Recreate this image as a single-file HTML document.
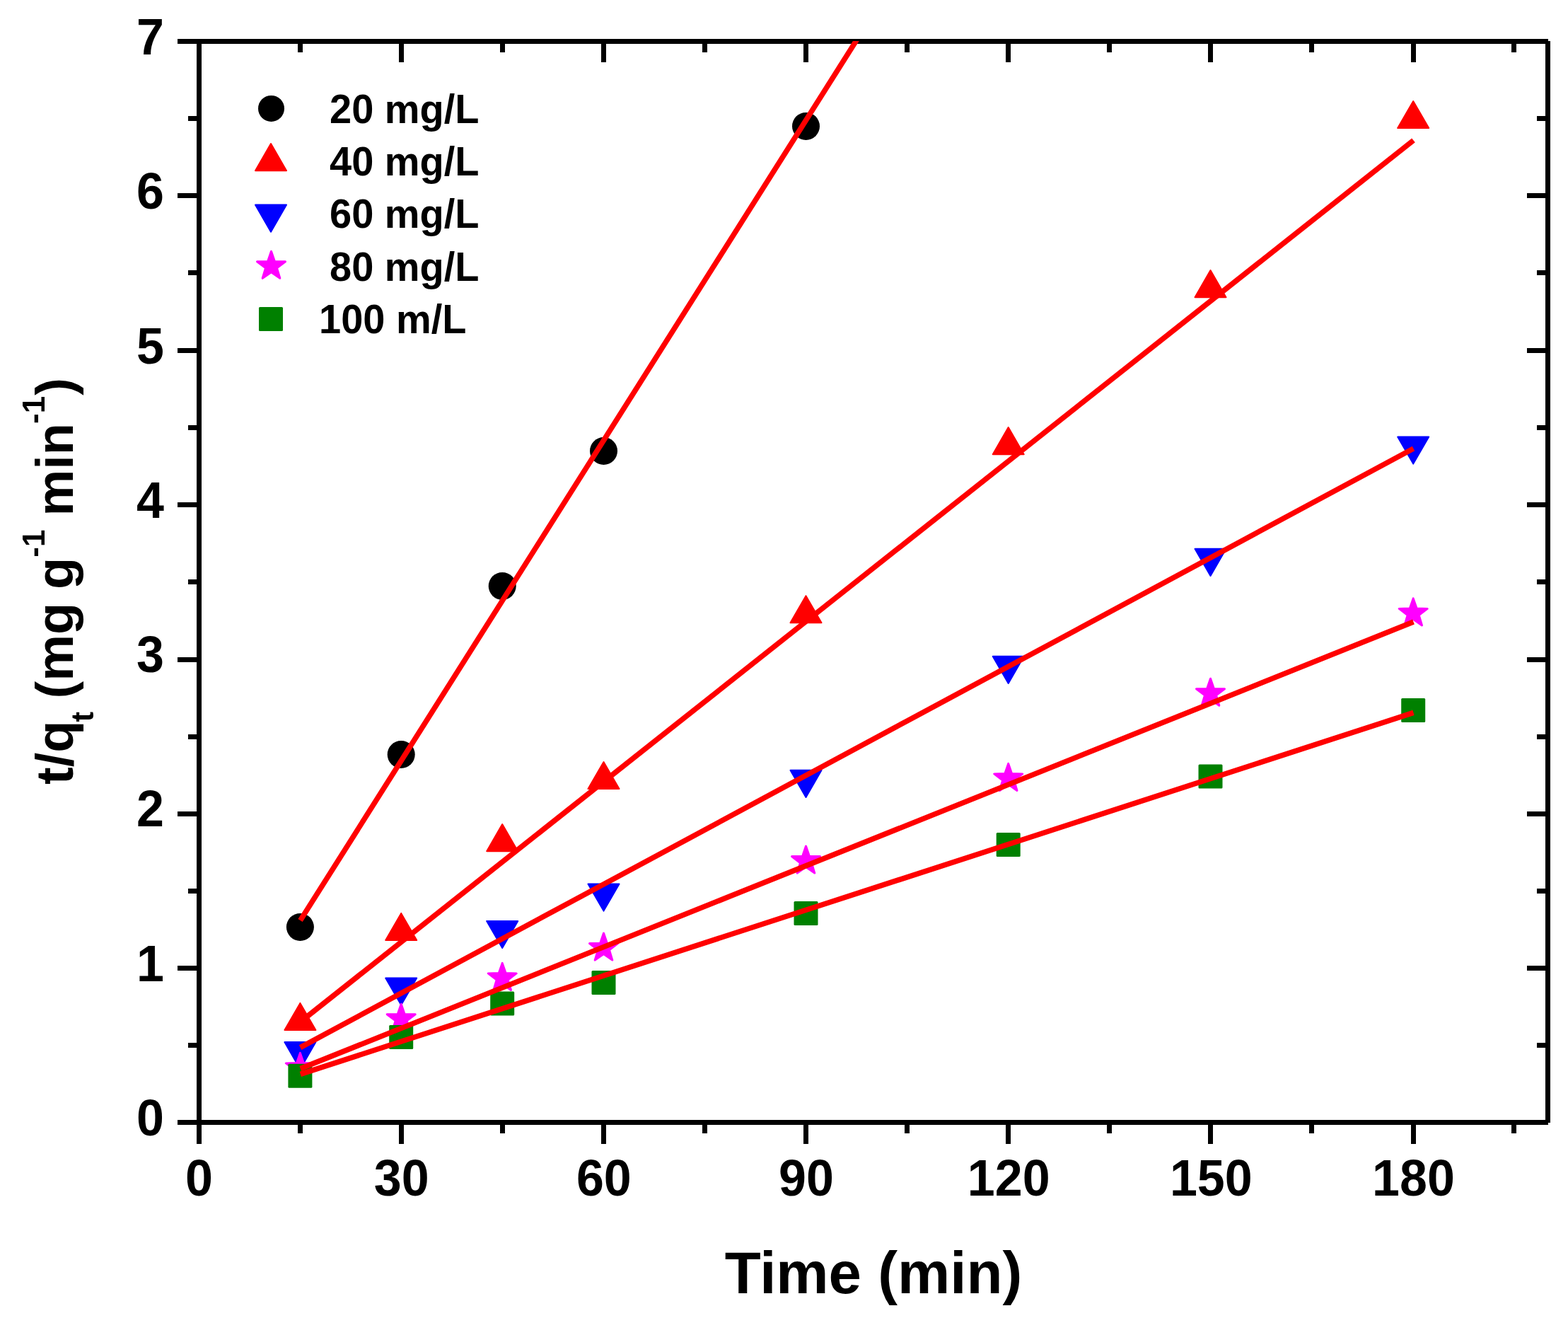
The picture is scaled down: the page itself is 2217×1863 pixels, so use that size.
<!DOCTYPE html>
<html><head><meta charset="utf-8"><title>t/qt vs Time</title>
<style>html,body{margin:0;padding:0;background:#fff;}svg{display:block;}text{font-family:"Liberation Sans",Arial,sans-serif;font-weight:bold;fill:#000;}</style></head><body>
<svg width="2217" height="1863" viewBox="0 0 2217 1863">
<rect x="0" y="0" width="2217" height="1863" fill="#fff"/>
<g fill="#000" shape-rendering="crispEdges"><rect x="251" y="55" width="1938" height="7"/><rect x="251" y="1583" width="1938" height="7"/><rect x="278" y="55" width="7" height="1535"/><rect x="2185" y="58" width="7" height="1529"/><rect x="251" y="273" width="27" height="7"/><rect x="2159" y="273" width="26" height="7"/><rect x="251" y="492" width="27" height="7"/><rect x="2159" y="492" width="26" height="7"/><rect x="251" y="710" width="27" height="7"/><rect x="2159" y="710" width="26" height="7"/><rect x="251" y="929" width="27" height="7"/><rect x="2159" y="929" width="26" height="7"/><rect x="251" y="1147" width="27" height="7"/><rect x="2159" y="1147" width="26" height="7"/><rect x="251" y="1365" width="27" height="7"/><rect x="2159" y="1365" width="26" height="7"/><rect x="266" y="164" width="12" height="7"/><rect x="2173" y="164" width="12" height="7"/><rect x="266" y="382" width="12" height="7"/><rect x="2173" y="382" width="12" height="7"/><rect x="266" y="601" width="12" height="7"/><rect x="2173" y="601" width="12" height="7"/><rect x="266" y="819" width="12" height="7"/><rect x="2173" y="819" width="12" height="7"/><rect x="266" y="1038" width="12" height="7"/><rect x="2173" y="1038" width="12" height="7"/><rect x="266" y="1256" width="12" height="7"/><rect x="2173" y="1256" width="12" height="7"/><rect x="266" y="1474" width="12" height="7"/><rect x="2173" y="1474" width="12" height="7"/><rect x="278" y="1590" width="7" height="27"/><rect x="564" y="1590" width="7" height="27"/><rect x="564" y="62" width="7" height="26"/><rect x="850" y="1590" width="7" height="27"/><rect x="850" y="62" width="7" height="26"/><rect x="1136" y="1590" width="7" height="27"/><rect x="1136" y="62" width="7" height="26"/><rect x="1422" y="1590" width="7" height="27"/><rect x="1422" y="62" width="7" height="26"/><rect x="1708" y="1590" width="7" height="27"/><rect x="1708" y="62" width="7" height="26"/><rect x="1995" y="1590" width="7" height="27"/><rect x="1995" y="62" width="7" height="26"/><rect x="421" y="1590" width="7" height="12"/><rect x="421" y="62" width="7" height="12"/><rect x="707" y="1590" width="7" height="12"/><rect x="707" y="62" width="7" height="12"/><rect x="993" y="1590" width="7" height="12"/><rect x="993" y="62" width="7" height="12"/><rect x="1279" y="1590" width="7" height="12"/><rect x="1279" y="62" width="7" height="12"/><rect x="1565" y="1590" width="7" height="12"/><rect x="1565" y="62" width="7" height="12"/><rect x="1851" y="1590" width="7" height="12"/><rect x="1851" y="62" width="7" height="12"/><rect x="2137" y="1590" width="7" height="12"/><rect x="2137" y="62" width="7" height="12"/></g>
<text transform="translate(281.5,1690.2) scale(1,1.02)" font-size="70" text-anchor="middle">0</text>
<text transform="translate(567.7,1690.2) scale(1,1.02)" font-size="70" text-anchor="middle">30</text>
<text transform="translate(853.8,1690.2) scale(1,1.02)" font-size="70" text-anchor="middle">60</text>
<text transform="translate(1140.0,1690.2) scale(1,1.02)" font-size="70" text-anchor="middle">90</text>
<text transform="translate(1426.2,1690.2) scale(1,1.02)" font-size="70" text-anchor="middle">120</text>
<text transform="translate(1712.3,1690.2) scale(1,1.02)" font-size="70" text-anchor="middle">150</text>
<text transform="translate(1998.5,1690.2) scale(1,1.02)" font-size="70" text-anchor="middle">180</text>
<text transform="translate(232,1605.0) scale(1,1.02)" font-size="70" text-anchor="end">0</text>
<text transform="translate(232,1386.7) scale(1,1.02)" font-size="70" text-anchor="end">1</text>
<text transform="translate(232,1168.4) scale(1,1.02)" font-size="70" text-anchor="end">2</text>
<text transform="translate(232,950.1) scale(1,1.02)" font-size="70" text-anchor="end">3</text>
<text transform="translate(232,731.9) scale(1,1.02)" font-size="70" text-anchor="end">4</text>
<text transform="translate(232,513.6) scale(1,1.02)" font-size="70" text-anchor="end">5</text>
<text transform="translate(232,295.3) scale(1,1.02)" font-size="70" text-anchor="end">6</text>
<text transform="translate(232,77.0) scale(1,1.02)" font-size="70" text-anchor="end">7</text>
<text x="1235" y="1828" font-size="83.5" text-anchor="middle">Time (min)</text>
<text transform="translate(103,1109) rotate(-90)" font-size="74">t/q<tspan font-size="44.0" dx="-2" dy="29">t</tspan><tspan dx="-2" dy="-29"> (mg</tspan><tspan dx="-1.7"> g</tspan><tspan font-size="44.0" dx="0" dy="-40">-1</tspan><tspan dx="-1.5" dy="40"> min</tspan><tspan font-size="44.0" dx="-1" dy="-40">-1</tspan><tspan dx="1" dy="40">)</tspan></text>
<g><circle cx="424.4" cy="1310.4" r="19.5" fill="#000"/><circle cx="567.2" cy="1066.5" r="19.5" fill="#000"/><circle cx="710.2" cy="828.4" r="19.5" fill="#000"/><circle cx="853.5" cy="637.5" r="19.5" fill="#000"/><circle cx="1139.5" cy="178.4" r="19.5" fill="#000"/><polygon points="424.4,1417.9 402.4,1456.0 446.4,1456.0" fill="#ff0000" stroke="#ff0000" stroke-width="2.0" stroke-linejoin="round"/><polygon points="567.2,1290.9 545.2,1329.0 589.2,1329.0" fill="#ff0000" stroke="#ff0000" stroke-width="2.0" stroke-linejoin="round"/><polygon points="710.2,1165.1 688.2,1203.2 732.2,1203.2" fill="#ff0000" stroke="#ff0000" stroke-width="2.0" stroke-linejoin="round"/><polygon points="853.5,1077.0 831.5,1115.1 875.5,1115.1" fill="#ff0000" stroke="#ff0000" stroke-width="2.0" stroke-linejoin="round"/><polygon points="1139.5,842.2 1117.5,880.3 1161.5,880.3" fill="#ff0000" stroke="#ff0000" stroke-width="2.0" stroke-linejoin="round"/><polygon points="1425.7,604.1 1403.7,642.2 1447.7,642.2" fill="#ff0000" stroke="#ff0000" stroke-width="2.0" stroke-linejoin="round"/><polygon points="1711.5,382.1 1689.5,420.2 1733.5,420.2" fill="#ff0000" stroke="#ff0000" stroke-width="2.0" stroke-linejoin="round"/><polygon points="1998.2,143.0 1976.2,181.1 2020.2,181.1" fill="#ff0000" stroke="#ff0000" stroke-width="2.0" stroke-linejoin="round"/><polygon points="424.4,1511.2 402.4,1473.1 446.4,1473.1" fill="#0000ff" stroke="#0000ff" stroke-width="2.0" stroke-linejoin="round"/><polygon points="567.2,1420.6 545.2,1382.5 589.2,1382.5" fill="#0000ff" stroke="#0000ff" stroke-width="2.0" stroke-linejoin="round"/><polygon points="710.2,1340.0 688.2,1301.9 732.2,1301.9" fill="#0000ff" stroke="#0000ff" stroke-width="2.0" stroke-linejoin="round"/><polygon points="853.5,1287.6 831.5,1249.5 875.5,1249.5" fill="#0000ff" stroke="#0000ff" stroke-width="2.0" stroke-linejoin="round"/><polygon points="1139.5,1126.9 1117.5,1088.8 1161.5,1088.8" fill="#0000ff" stroke="#0000ff" stroke-width="2.0" stroke-linejoin="round"/><polygon points="1425.7,965.9 1403.7,927.8 1447.7,927.8" fill="#0000ff" stroke="#0000ff" stroke-width="2.0" stroke-linejoin="round"/><polygon points="1711.5,813.9 1689.5,775.8 1733.5,775.8" fill="#0000ff" stroke="#0000ff" stroke-width="2.0" stroke-linejoin="round"/><polygon points="1998.2,655.6 1976.2,617.5 2020.2,617.5" fill="#0000ff" stroke="#0000ff" stroke-width="2.0" stroke-linejoin="round"/><polygon points="424.4,1488.4 429.3,1502.6 444.4,1502.9 432.4,1512.0 436.7,1526.4 424.4,1517.8 412.1,1526.4 416.4,1512.0 404.4,1502.9 419.5,1502.6" fill="#ff00ff" stroke="#ff00ff" stroke-width="3.0" stroke-linejoin="round"/><polygon points="567.2,1419.2 572.1,1433.4 587.2,1433.7 575.2,1442.8 579.5,1457.2 567.2,1448.6 554.9,1457.2 559.2,1442.8 547.2,1433.7 562.3,1433.4" fill="#ff00ff" stroke="#ff00ff" stroke-width="3.0" stroke-linejoin="round"/><polygon points="710.2,1361.4 715.1,1375.6 730.2,1375.9 718.2,1385.0 722.5,1399.4 710.2,1390.8 697.9,1399.4 702.2,1385.0 690.2,1375.9 705.3,1375.6" fill="#ff00ff" stroke="#ff00ff" stroke-width="3.0" stroke-linejoin="round"/><polygon points="853.5,1319.1 858.4,1333.3 873.5,1333.6 861.5,1342.7 865.8,1357.1 853.5,1348.5 841.2,1357.1 845.5,1342.7 833.5,1333.6 848.6,1333.3" fill="#ff00ff" stroke="#ff00ff" stroke-width="3.0" stroke-linejoin="round"/><polygon points="1139.5,1196.1 1144.4,1210.3 1159.5,1210.6 1147.5,1219.7 1151.8,1234.1 1139.5,1225.5 1127.2,1234.1 1131.5,1219.7 1119.5,1210.6 1134.6,1210.3" fill="#ff00ff" stroke="#ff00ff" stroke-width="3.0" stroke-linejoin="round"/><polygon points="1425.7,1079.4 1430.6,1093.6 1445.7,1093.9 1433.7,1103.0 1438.0,1117.4 1425.7,1108.8 1413.4,1117.4 1417.7,1103.0 1405.7,1093.9 1420.8,1093.6" fill="#ff00ff" stroke="#ff00ff" stroke-width="3.0" stroke-linejoin="round"/><polygon points="1711.5,959.2 1716.4,973.4 1731.5,973.7 1719.5,982.8 1723.8,997.2 1711.5,988.6 1699.2,997.2 1703.5,982.8 1691.5,973.7 1706.6,973.4" fill="#ff00ff" stroke="#ff00ff" stroke-width="3.0" stroke-linejoin="round"/><polygon points="1998.2,845.9 2003.1,860.1 2018.2,860.4 2006.2,869.5 2010.5,883.9 1998.2,875.3 1985.9,883.9 1990.2,869.5 1978.2,860.4 1993.3,860.1" fill="#ff00ff" stroke="#ff00ff" stroke-width="3.0" stroke-linejoin="round"/><rect x="407.4" y="1503.8" width="34.0" height="34.0" rx="1.5" fill="#008000"/><rect x="550.2" y="1449.0" width="34.0" height="34.0" rx="1.5" fill="#008000"/><rect x="693.2" y="1401.5" width="34.0" height="34.0" rx="1.5" fill="#008000"/><rect x="836.5" y="1372.0" width="34.0" height="34.0" rx="1.5" fill="#008000"/><rect x="1122.5" y="1273.9" width="34.0" height="34.0" rx="1.5" fill="#008000"/><rect x="1408.7" y="1176.9" width="34.0" height="34.0" rx="1.5" fill="#008000"/><rect x="1694.5" y="1080.6" width="34.0" height="34.0" rx="1.5" fill="#008000"/><rect x="1981.2" y="986.9" width="34.0" height="34.0" rx="1.5" fill="#008000"/></g>
<defs><clipPath id="pa"><rect x="281.5" y="58" width="1907" height="1528.5"/></clipPath></defs>
<g stroke="#ff0000" stroke-width="7.5" stroke-linecap="butt" clip-path="url(#pa)"><line x1="424.6" y1="1301.0" x2="1221.7" y2="40.0"/><line x1="424.6" y1="1444.5" x2="1998.5" y2="198.4"/><line x1="424.6" y1="1480.6" x2="1998.5" y2="634.0"/><line x1="424.8" y1="1510.6" x2="1998.5" y2="879.1"/><line x1="424.8" y1="1518.4" x2="1998.5" y2="1007.4"/></g>
<g><circle cx="383.5" cy="153.4" r="18.5" fill="#000"/><polygon points="383.0,203.1 361.0,241.2 405.0,241.2" fill="#ff0000" stroke="#ff0000" stroke-width="2.0" stroke-linejoin="round"/><polygon points="383.0,327.7 361.0,289.6 405.0,289.6" fill="#0000ff" stroke="#0000ff" stroke-width="2.0" stroke-linejoin="round"/><polygon points="383.5,355.3 388.4,369.5 403.5,369.8 391.5,378.9 395.8,393.3 383.5,384.7 371.2,393.3 375.5,378.9 363.5,369.8 378.6,369.5" fill="#ff00ff" stroke="#ff00ff" stroke-width="3.0" stroke-linejoin="round"/><rect x="366.0" y="434.0" width="34.0" height="34.0" rx="1.5" fill="#008000"/></g>
<text transform="translate(466,174.2) scale(1,1.035)" font-size="56">20 mg/L</text>
<text transform="translate(466,248.1) scale(1,1.035)" font-size="56">40 mg/L</text>
<text transform="translate(466,321.9) scale(1,1.035)" font-size="56">60 mg/L</text>
<text transform="translate(466,396.7) scale(1,1.035)" font-size="56">80 mg/L</text>
<text transform="translate(451,470.5) scale(1,1.035)" font-size="56">100 m/L</text>
</svg></body></html>
